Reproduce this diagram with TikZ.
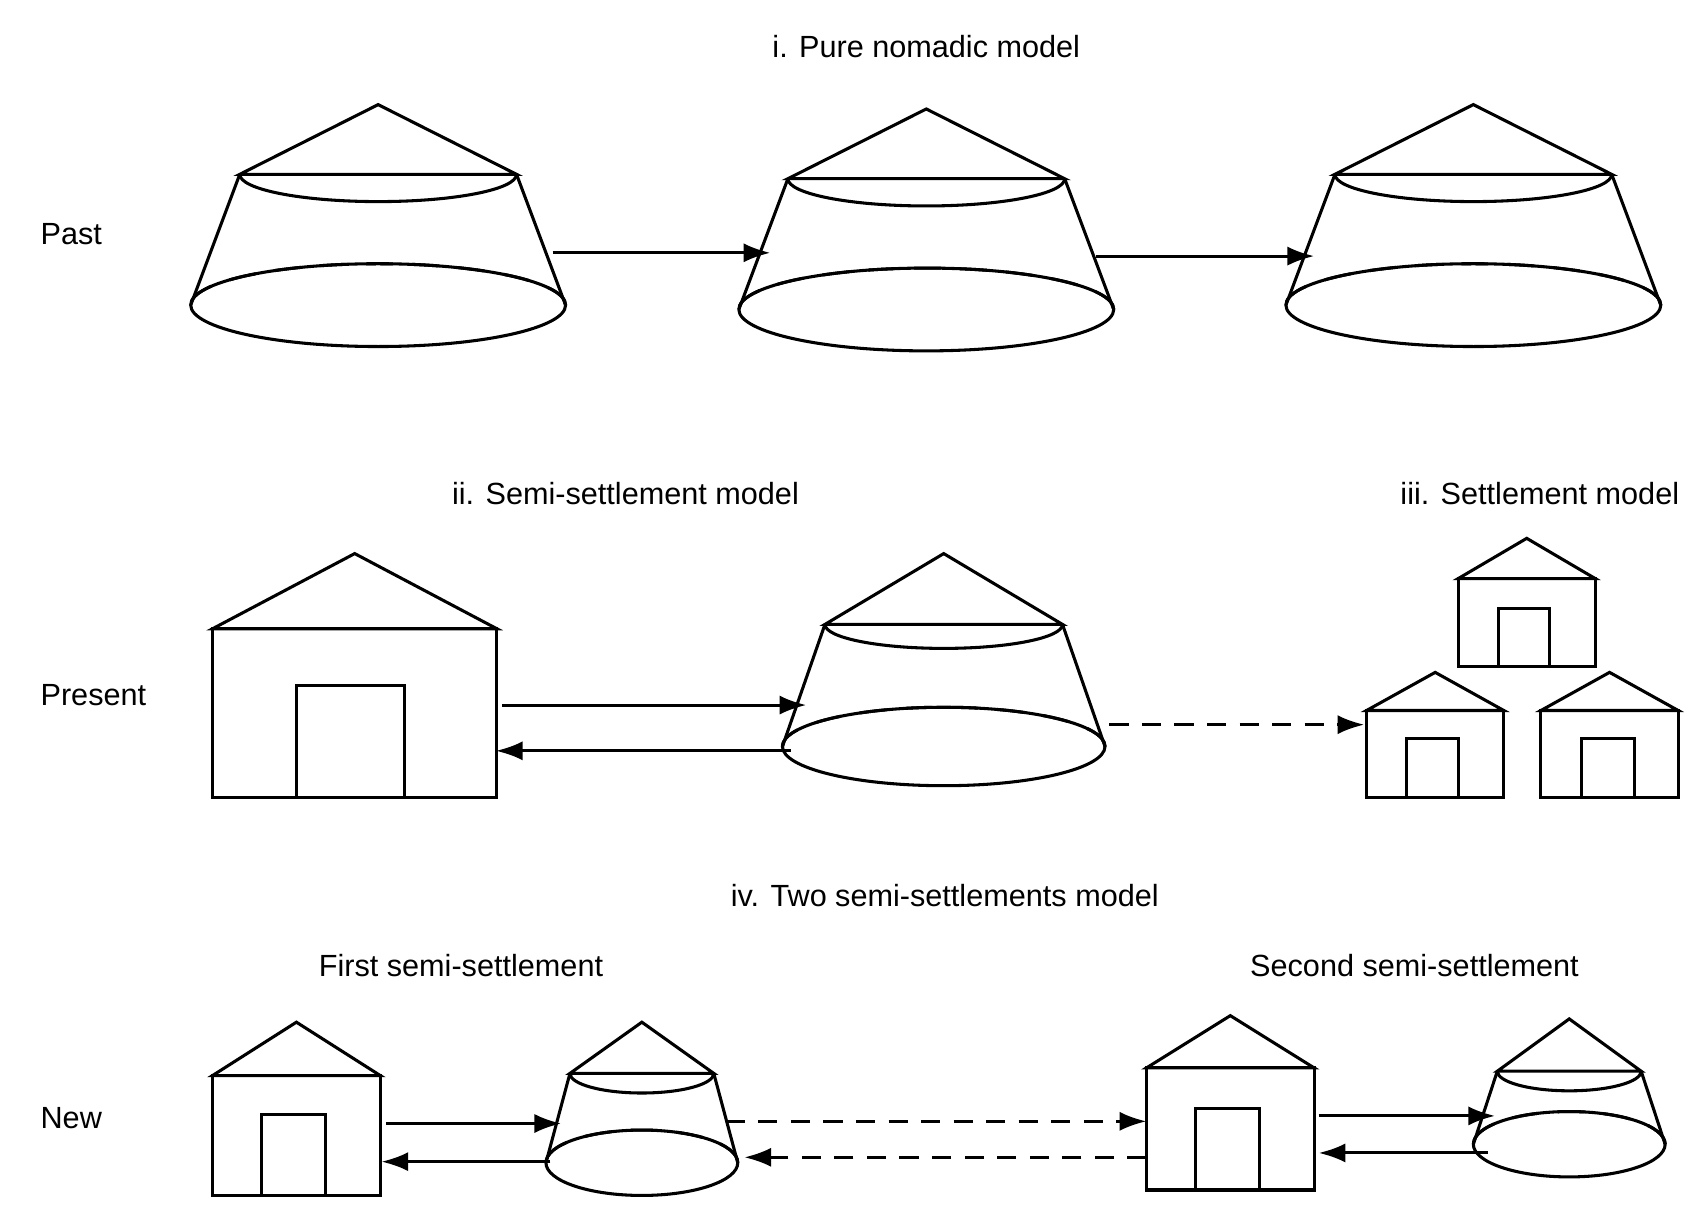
\documentclass[tikz,border=0pt]{standalone}
\usepackage{fontspec}
\setmainfont{Liberation Sans}
\usetikzlibrary{arrows.meta}

% yurt: centre x, apex y, roof half width, roof depth, base half width, base depth, base ry, top ry
\newcommand\yurt[8]{%
  \draw (#1-#3,#2+#4) -- (#1,#2) -- (#1+#3,#2+#4) -- cycle;
  \draw (#1-#3,#2+#4) arc[start angle=180,end angle=360,x radius=#3*0.02cm,y radius=#8*0.02cm];
  \draw (#1-#3,#2+#4) -- (#1-#5,#2+#5*0+#6) (#1+#3,#2+#4) -- (#1+#5,#2+#6);
  \draw (#1,#2+#6) ellipse[x radius=#5*0.02cm,y radius=#7*0.02cm];
  \draw[back] (#1+#5,#2+#6) arc[start angle=0,end angle=180,x radius=#5*0.02cm,y radius=#7*0.02cm];
}
% house: left x, right x, apex y, eaves y, bottom y, door left, door right, door top
\newcommand\house[8]{%
  \draw (#1,#4) -- ({(#1+#2)/2},#3) -- (#2,#4) -- cycle;
  \draw (#1,#4) rectangle (#2,#5);
  \draw (#6,#5) rectangle (#7,#8);
}

\tikzset{
  back/.style={dash pattern=on 14pt off 10pt},
  move/.style={-{Latex[length=14pt,width=10pt]}},
  plan/.style={move,dash pattern=on 10pt off 7pt},
  title/.style={font=\fontsize{16}{19}\selectfont},
  era/.style={title,anchor=west}
}

\begin{document}
\begin{tikzpicture}[x=0.02cm,y=-0.02cm,line width=1.6pt]
\useasboundingbox (0,0) rectangle (1560,1114);

% labels
\node[title] (ti) at (850,43) {i. Pure nomadic model};
\node[title] (tii) at (574,453) {ii. Semi-settlement model};
\node[title] (tiii) at (1413,453) {iii. Settlement model};
\node[title] (tiv) at (867,822) {iv. Two semi-settlements model};
\node[title] (first) at (423,886) {First semi-settlement};
\node[title] (second) at (1298,886) {Second semi-settlement};
\node[era] (past) at (30,215) {Past};
\node[era] (present) at (30,638) {Present};
\node[era] (new) at (30,1026) {New};

% past
\yurt{347}{96}{127}{64}{172}{184}{38}{25}
\yurt{850}{100}{127}{64}{172}{184}{38}{25}
\yurt{1352}{96}{127}{64}{172}{184}{38}{25}

% present
\house{195}{456}{508}{577}{732}{272}{371}{629}
\yurt{866}{508}{109}{65}{148}{177}{36}{22}
\house{1338}{1464}{494}{531}{612}{1375}{1422}{558}
\house{1254}{1380}{617}{652}{732}{1291}{1338}{678}
\house{1414}{1540}{617}{652}{732}{1451}{1500}{678}

% new
\house{195}{349}{938}{987}{1097}{240}{299}{1023}
\yurt{589}{938}{66}{47}{88}{129}{30}{18}
\house{1052}{1206}{932}{980}{1092}{1097}{1156}{1017}
\yurt{1440}{935}{66}{48}{88}{115}{30}{18}

% connectors
\coordinate (p1) at (507,232); \coordinate (p2) at (707,232);
\coordinate (p3) at (1006,235); \coordinate (p4) at (1206,235);
\draw[move] (p1) -- (p2);
\draw[move] (p3) -- (p4);

\coordinate (s1) at (461,647); \coordinate (s2) at (740,647);
\coordinate (s3) at (726,689); \coordinate (s4) at (455,689);
\coordinate (s5) at (1018,665); \coordinate (s6) at (1252,665);
\draw[move] (s1) -- (s2);
\draw[move] (s3) -- (s4);
\draw[plan] (s5) -- (s6);

\coordinate (n1) at (354,1031); \coordinate (n2) at (515,1031);
\coordinate (n3) at (505,1066); \coordinate (n4) at (350,1066);
\coordinate (n5) at (666,1029); \coordinate (n6) at (1052,1029);
\coordinate (n7) at (1052,1062); \coordinate (n8) at (683,1062);
\coordinate (n9) at (1210,1024); \coordinate (n10) at (1372,1024);
\coordinate (n11) at (1365,1058); \coordinate (n12) at (1210,1058);
\draw[move] (n1) -- (n2);
\draw[move] (n3) -- (n4);
\draw[plan] (n5) -- (n6);
\draw[plan] (n7) -- (n8);
\draw[move] (n9) -- (n10);
\draw[move] (n11) -- (n12);
\end{tikzpicture}
\end{document}
